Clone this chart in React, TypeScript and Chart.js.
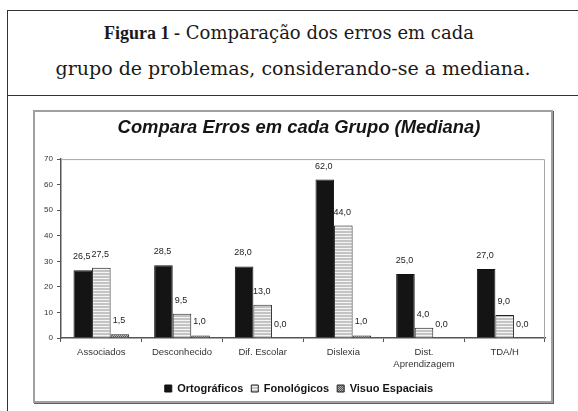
import React, { useEffect, useRef } from "react";
import { Chart, registerables } from "chart.js";

Chart.register(...registerables);

const categories: (string | string[])[] = [
  "Associados",
  "Desconhecido",
  "Dif. Escolar",
  "Dislexia",
  ["Dist.", "Aprendizagem"],
  "TDA/H",
];
const ortograficos = [26.5, 28.5, 28.0, 62.0, 25.0, 27.0];
const fonologicos = [27.5, 9.5, 13.0, 44.0, 4.0, 9.0];
const visuoEspaciais = [1.5, 1.0, 0.0, 1.0, 0.0, 0.0];
const seriesNames = ["Ortográficos", "Fonológicos", "Visuo Espaciais"];
const yTicks = [0, 10, 20, 30, 40, 50, 60, 70];

function makeHatch(): CanvasPattern | string {
  const c = document.createElement("canvas");
  c.width = 4;
  c.height = 3;
  const g = c.getContext("2d");
  if (!g) return "#ccc";
  g.fillStyle = "#c4c4c4";
  g.fillRect(0, 0, 4, 3);
  g.fillStyle = "#f4f4f4";
  g.fillRect(0, 1, 4, 1);
  return g.createPattern(c, "repeat") || "#ccc";
}

function makeDots(): CanvasPattern | string {
  const c = document.createElement("canvas");
  c.width = 2;
  c.height = 2;
  const g = c.getContext("2d");
  if (!g) return "#888";
  g.fillStyle = "#b0b0b0";
  g.fillRect(0, 0, 2, 2);
  g.fillStyle = "#555";
  g.fillRect(0, 0, 1, 1);
  g.fillRect(1, 1, 1, 1);
  return g.createPattern(c, "repeat") || "#888";
}

const fmt = (v: number) => v.toFixed(1).replace(".", ",");

const labelPlugin = {
  id: "valueLabels",
  afterDatasetsDraw(chart: any) {
    const ctx = chart.ctx;
    ctx.save();
    ctx.font = "9px 'Liberation Sans', Arial, sans-serif";
    ctx.fillStyle = "#222";
    ctx.textAlign = "center";
    ctx.textBaseline = "bottom";
    chart.data.datasets.forEach((ds: any, di: number) => {
      const meta = chart.getDatasetMeta(di);
      meta.data.forEach((el: any, i: number) => {
        const v = ds.data[i] as number;
        ctx.fillText(fmt(v), el.x - 1, el.y - 9);
      });
    });
    ctx.restore();
  },
};

const yLabelPlugin = {
  id: "yLabels",
  afterDraw(chart: any) {
    const { ctx, chartArea } = chart;
    const y = chart.scales.y;
    ctx.save();
    ctx.font = "8px 'Liberation Sans', Arial, sans-serif";
    ctx.fillStyle = "#333";
    ctx.textAlign = "right";
    ctx.textBaseline = "middle";
    yTicks.forEach((v) => {
      ctx.fillText(String(v), chartArea.left - 8, y.getPixelForValue(v));
    });
    ctx.restore();
  },
};

const framePlugin = {
  id: "plotFrame",
  beforeDatasetsDraw(chart: any) {
    const { ctx, chartArea } = chart;
    ctx.save();
    ctx.strokeStyle = "#a8a8a8";
    ctx.lineWidth = 1;
    ctx.beginPath();
    ctx.moveTo(chartArea.left, chartArea.top + 0.5);
    ctx.lineTo(chartArea.right - 0.5, chartArea.top + 0.5);
    ctx.lineTo(chartArea.right - 0.5, chartArea.bottom);
    ctx.stroke();
    ctx.restore();
  },
};

function ChartBox() {
  const ref = useRef<HTMLCanvasElement | null>(null);
  useEffect(() => {
    if (!ref.current) return;
    const hatch = makeHatch();
    const dots = makeDots();
    const chart = new Chart(ref.current, {
      type: "bar",
      data: {
        labels: categories as any,
        datasets: [
          {
            label: seriesNames[0],
            data: ortograficos,
            backgroundColor: "#141414",
            borderColor: "#111",
            borderWidth: 1,
          },
          {
            label: seriesNames[1],
            data: fonologicos,
            backgroundColor: hatch as any,
            borderColor: "#222",
            borderWidth: 1,
          },
          {
            label: seriesNames[2],
            data: visuoEspaciais,
            backgroundColor: dots as any,
            borderColor: "#222",
            borderWidth: 1,
          },
        ],
      },
      plugins: [framePlugin, labelPlugin, yLabelPlugin],
      options: {
        animation: false,
        responsive: false,
        maintainAspectRatio: false,
        devicePixelRatio: 1,
        categoryPercentage: 0.69,
        barPercentage: 1,
        layout: { padding: { left: 18, right: 6, top: 0, bottom: 0 } },
        plugins: {
          title: {
            display: true,
            text: "Compara Erros em cada Grupo (Mediana)",
            color: "#151515",
            font: {
              family: "'Liberation Sans', Arial, sans-serif",
              size: 18.4,
              weight: "bold",
              style: "italic",
            },
            padding: { top: 5, bottom: 20 },
          },
          legend: {
            display: true,
            position: "bottom",
            labels: {
              boxWidth: 7,
              boxHeight: 7,
              padding: 8,
              color: "#151515",
              font: {
                family: "'Liberation Sans', Arial, sans-serif",
                size: 11,
                weight: "bold",
              },
            },
          },
          tooltip: { enabled: false },
        },
        scales: {
          x: {
            grid: {
              display: true,
              offset: true,
              drawOnChartArea: false,
              drawTicks: true,
              tickLength: 4,
              color: "#555",
            },
            border: { display: true, color: "#555", width: 1.5 },
            ticks: {
              color: "#333",
              maxRotation: 0,
              autoSkip: false,
              padding: 5,
              font: { family: "'Liberation Sans', Arial, sans-serif", size: 9.5 },
            },
            afterFit: (s: any) => {
              s.height = 37;
            },
          },
          y: {
            min: 0,
            max: 70,
            afterBuildTicks: (s: any) => {
              s.ticks = yTicks.map((v) => ({ value: v }));
            },
            grid: {
              display: true,
              drawOnChartArea: false,
              drawTicks: true,
              tickLength: 4,
              color: "#555",
            },
            border: { display: true, color: "#555", width: 1.5 },
            ticks: { display: false },
            afterFit: (s: any) => {
              s.width = 8;
            },
          },
        },
      } as any,
    });
    return () => chart.destroy();
  }, []);
  return <canvas ref={ref} width={516} height={292} style={{ display: "block", width: 516, height: 292 }} />;
}

export default function App() {
  return (
    <div
      style={{
        position: "fixed",
        left: 0,
        top: 0,
        width: 578,
        height: 411,
        background: "#fff",
        overflow: "hidden",
      }}
    >
      <div
        style={{
          position: "absolute",
          left: 7,
          top: 10,
          width: 580,
          height: 420,
          borderLeft: "1.5px solid #333",
          borderTop: "1.5px solid #333",
        }}
      />
      <div
        style={{
          position: "absolute",
          left: 7,
          top: 95,
          width: 580,
          height: 0,
          borderTop: "1.5px solid #333",
        }}
      />
      <div
        style={{
          position: "absolute",
          left: 8,
          right: 0,
          top: 15,
          textAlign: "center",
          fontFamily: "'DejaVu Serif', serif",
          lineHeight: "35px",
          color: "#1a1a1a",
        }}
      >
        <div style={{ fontSize: 18, paddingRight: 8 }}>
          <b style={{ fontFamily: "'Liberation Serif', serif", fontSize: 18 }}>Figura 1 -</b> Comparação dos erros em cada
        </div>
        <div style={{ fontSize: 19 }}>grupo de problemas, considerando-se a mediana.</div>
      </div>
      <div
        style={{
          position: "absolute",
          left: 33,
          top: 110,
          width: 520,
          height: 293,
          boxSizing: "border-box",
          border: "2px solid #a0a0a0",
          boxShadow: "1px 1px 0 #606060",
        }}
      />
      <div style={{ position: "absolute", left: 35, top: 112, width: 516, height: 292 }}>
        <ChartBox />
      </div>
    </div>
  );
}
